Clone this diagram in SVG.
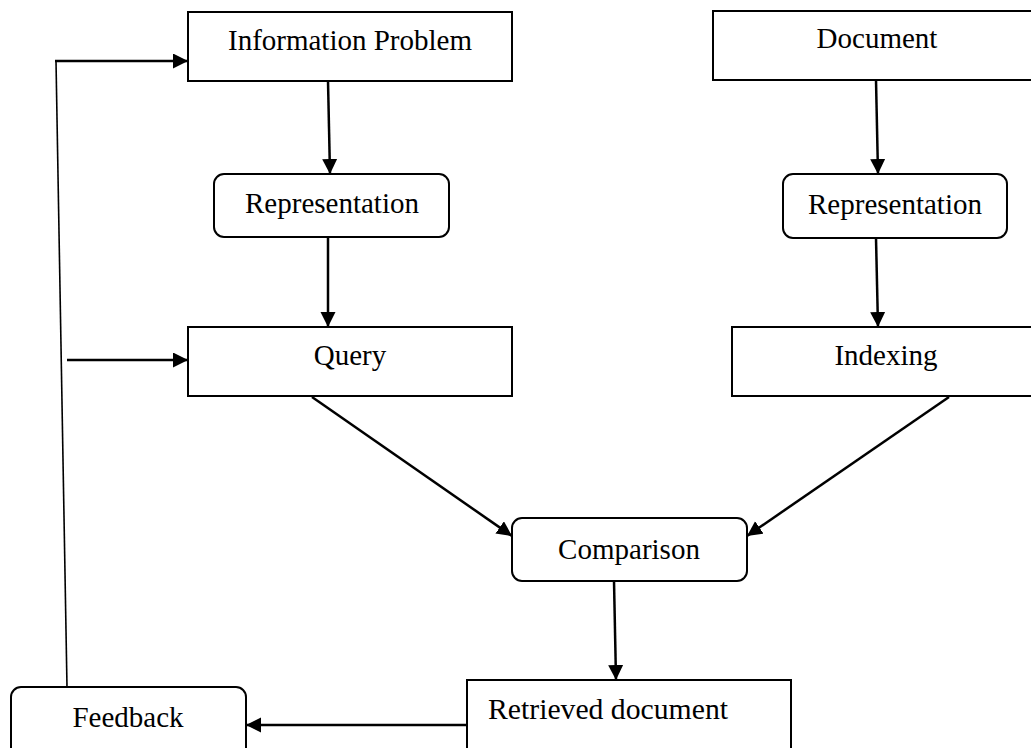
<svg xmlns="http://www.w3.org/2000/svg" width="1031" height="748" viewBox="0 0 1031 748">
  <style>
    .box { fill: #ffffff; stroke: #000000; stroke-width: 2; }
    .label { font-family: "Liberation Serif", "Times New Roman", serif; font-size: 29px; fill: #000000; }
    .mid { text-anchor: middle; }
    .edge { fill: none; stroke: #000000; stroke-width: 2.5; }
    .thin { fill: none; stroke: #000000; stroke-width: 1.6; }
  </style>
  <defs>
    <marker id="arrow" markerUnits="userSpaceOnUse" markerWidth="16" markerHeight="16" refX="15" refY="7.5" orient="auto">
      <path d="M0,0 L15,7.5 L0,15 Z" fill="#000000"/>
    </marker>
  </defs>

  <rect width="1031" height="748" fill="#ffffff"/>

  <!-- connectors -->
  <g id="connectors">
    <line class="edge" x1="328" y1="81" x2="330" y2="174" marker-end="url(#arrow)"/>
    <line class="edge" x1="328" y1="237" x2="328" y2="327" marker-end="url(#arrow)"/>
    <line class="edge" x1="876" y1="80" x2="878" y2="174" marker-end="url(#arrow)"/>
    <line class="edge" x1="876" y1="238" x2="878" y2="327" marker-end="url(#arrow)"/>
    <line class="edge" x1="312" y1="397" x2="512" y2="536" marker-end="url(#arrow)"/>
    <line class="edge" x1="949" y1="397" x2="747" y2="536" marker-end="url(#arrow)"/>
    <line class="edge" x1="614" y1="581" x2="616" y2="680" marker-end="url(#arrow)"/>
    <line class="edge" x1="467" y1="725" x2="246" y2="725" marker-end="url(#arrow)"/>
    <!-- feedback loop back to the information problem -->
    <line class="thin" x1="67" y1="687" x2="56" y2="61"/>
    <line class="edge" x1="55" y1="61" x2="188" y2="61" marker-end="url(#arrow)"/>
    <line class="edge" x1="67" y1="360" x2="188" y2="360" marker-end="url(#arrow)"/>
  </g>

  <g id="information-problem">
    <rect class="box" x="188" y="12" width="324" height="69"/>
    <text class="label mid" x="350" y="50">Information Problem</text>
  </g>

  <g id="representation-left">
    <rect class="box" x="214" y="174" width="235" height="63" rx="10" ry="10"/>
    <text class="label mid" x="332" y="213">Representation</text>
  </g>

  <g id="query">
    <rect class="box" x="188" y="327" width="324" height="69"/>
    <text class="label mid" x="350" y="365">Query</text>
  </g>

  <g id="document">
    <rect class="box" x="713" y="11" width="330" height="69"/>
    <text class="label mid" x="877" y="48">Document</text>
  </g>

  <g id="representation-right">
    <rect class="box" x="783" y="174" width="224" height="64" rx="10" ry="10"/>
    <text class="label mid" x="895" y="214">Representation</text>
  </g>

  <g id="indexing">
    <rect class="box" x="732" y="327" width="311" height="69"/>
    <text class="label mid" x="886" y="365">Indexing</text>
  </g>

  <g id="comparison">
    <rect class="box" x="512" y="518" width="235" height="63" rx="10" ry="10"/>
    <text class="label mid" x="629" y="559">Comparison</text>
  </g>

  <g id="retrieved-document">
    <rect class="box" x="467" y="680" width="324" height="80"/>
    <text class="label" x="488" y="719" textLength="240" lengthAdjust="spacingAndGlyphs">Retrieved document</text>
  </g>

  <g id="feedback">
    <rect class="box" x="11" y="687" width="235" height="80" rx="10" ry="10"/>
    <text class="label mid" x="128" y="727">Feedback</text>
  </g>
</svg>
